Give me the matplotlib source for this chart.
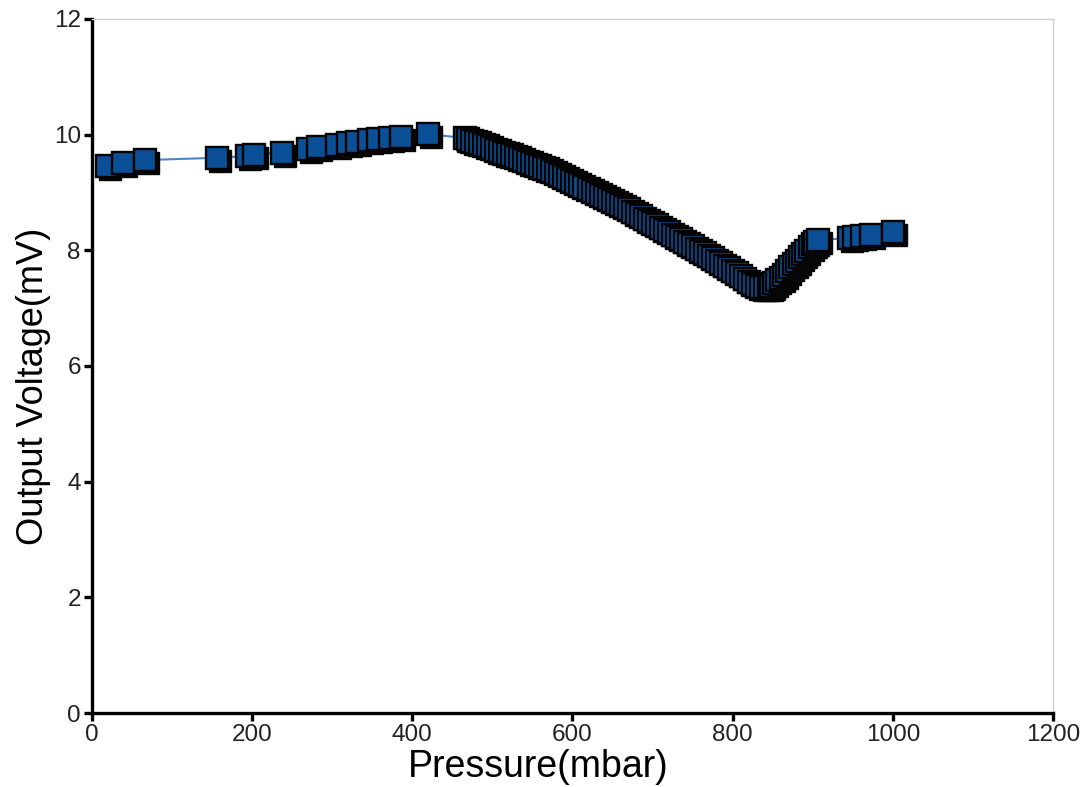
import matplotlib
matplotlib.use("Agg")
import matplotlib.pyplot as plt
from matplotlib.transforms import offset_copy

# sparse readings on the rising part
p_low = [19, 39, 66, 156, 194, 202, 237, 270, 282, 306, 320, 331, 346, 357, 372, 386, 420]
v_low = [9.46, 9.51, 9.56, 9.60, 9.63, 9.65, 9.69, 9.76, 9.78, 9.82, 9.85, 9.88, 9.90, 9.92, 9.94, 9.96, 10.01]

# dense readings, falling branch
p_fall = [466, 470, 475, 480, 485, 490, 495, 500, 505, 510, 515, 520, 525, 530, 535, 540,
          545, 550, 555, 560, 565, 570, 575, 580, 585, 590, 595, 600, 605, 610, 615, 620,
          625, 630, 635, 640, 645, 650, 655, 660, 665, 670, 675, 680, 685, 690, 695, 700,
          705, 710, 715, 720, 725, 730, 735, 740, 745, 750, 755, 760, 765, 770, 775, 780,
          785, 790, 795, 800, 805, 810, 815, 820, 825, 830, 835, 840, 845]
v_fall = [9.94, 9.92, 9.89, 9.87, 9.85, 9.82, 9.80, 9.77, 9.74, 9.72, 9.69, 9.66, 9.64, 9.61, 9.59, 9.56,
          9.53, 9.51, 9.48, 9.45, 9.43, 9.40, 9.37, 9.33, 9.30, 9.26, 9.23, 9.19, 9.16, 9.13, 9.10, 9.06,
          9.03, 8.99, 8.96, 8.92, 8.89, 8.86, 8.82, 8.79, 8.75, 8.71, 8.67, 8.63, 8.59, 8.55, 8.51, 8.47,
          8.43, 8.39, 8.35, 8.31, 8.27, 8.23, 8.19, 8.15, 8.11, 8.07, 8.03, 7.99, 7.95, 7.91, 7.87, 7.82,
          7.78, 7.73, 7.69, 7.64, 7.60, 7.55, 7.51, 7.46, 7.42, 7.39, 7.37, 7.36, 7.37]

# dense readings, recovery branch
p_rise = [848, 852, 856, 860, 864, 868, 872, 876, 880, 884, 888, 892, 896, 900, 903, 906]
v_rise = [7.39, 7.43, 7.48, 7.53, 7.58, 7.65, 7.71, 7.77, 7.82, 7.88, 7.94, 7.99, 8.05, 8.11, 8.15, 8.18]

# last sparse readings
p_high = [945, 952, 962, 973, 1000]
v_high = [8.21, 8.23, 8.25, 8.27, 8.32]

pressure = p_low + p_fall + p_rise + p_high
voltage = v_low + v_fall + v_rise + v_high

fig = plt.figure(figsize=(10.86, 7.87), dpi=100)
ax = fig.add_axes([0.0847, 0.094, 0.8849, 0.8819])

ax.plot(pressure, voltage, color='#4a86c5', lw=1.5, zorder=2)

shadow = offset_copy(ax.transData, fig=fig, x=3, y=-3, units='dots')
for i, (p, v) in enumerate(zip(pressure, voltage)):
    ax.plot(p, v, 's', ms=16.2, mfc='#060606', mec='#060606', mew=1.0,
            transform=shadow, zorder=3 + 2 * i)
    ax.plot(p, v, 's', ms=16.2, mfc='#0b4f96', mec='#030303', mew=1.7,
            zorder=4 + 2 * i)

ax.set_xlim(0, 1200)
ax.set_ylim(0, 12)
ax.set_xticks(range(0, 1201, 200))
ax.set_yticks(range(0, 13, 2))

for side in ['left', 'bottom']:
    ax.spines[side].set_linewidth(2.4)
    ax.spines[side].set_color('black')
for side in ['top', 'right']:
    ax.spines[side].set_linewidth(1.0)
    ax.spines[side].set_color('#d0d0d0')

ax.tick_params(direction='out', length=6, width=2.4, color='black',
               labelsize=17.5, labelcolor='#222222', pad=2, top=False, right=False)
for lab in ax.get_xticklabels() + ax.get_yticklabels():
    lab.set_family('Liberation Sans')

ax.set_xlabel('Pressure(mbar)', fontsize=27, family='Liberation Sans')
ax.xaxis.label.set_va('baseline')
ax.xaxis.set_label_coords(0.464, -0.0922)

ax.set_ylabel('Output Voltage(mV)', fontsize=26, family='Liberation Sans')
ax.yaxis.label.set_va('center')
ax.yaxis.set_label_coords(-0.061, 0.471)

fig.savefig('out.png', dpi=100)
